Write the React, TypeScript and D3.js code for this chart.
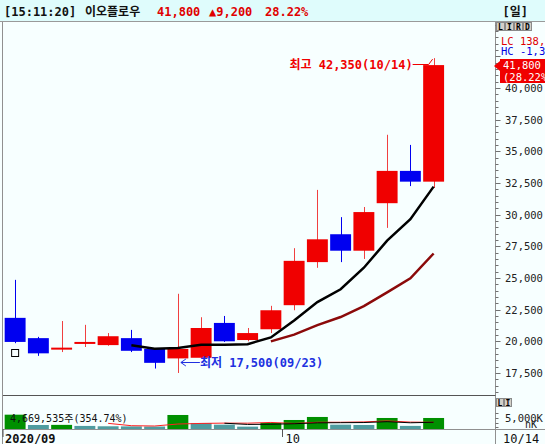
import React from 'react';
import * as d3 from 'd3';

const dates = ['09/14','09/15','09/16','09/17','09/18','09/21','09/22','09/23','09/24','09/25','09/28','09/29','10/05','10/06','10/07','10/08','10/12','10/13','10/14'];
const opens = [21850,20250,19450,19900,19700,20250,19400,18650,18700,21450,20100,20950,22850,26250,28450,27150,30900,33450,32600];
const highs = [24850,20350,21600,21300,20650,20900,19450,23750,21900,22000,21050,22800,27350,31950,29800,30600,36300,35500,42350];
const lows = [19850,18850,19150,19550,19650,19150,17850,17500,18650,19950,20000,20650,22450,25800,26250,26500,28950,32250,32100];
const closes = [19950,19050,19500,19950,20400,19250,18300,19400,21050,20000,20650,22450,26350,28050,27150,30200,33450,32600,41800];
const volumes = [6070000,1700000,1750000,1300000,1150000,1100000,1050000,5940000,2550000,1830000,1000000,2550000,3820000,5100000,1830000,1700000,4670000,1316330,4669535];
const priceTicks = [17500,20000,22500,25000,27500,30000,32500,35000,37500,40000];
const maShort = 6;
const maLong = 12;
const volMaShort = 5;
const volMaLong = 10;

const MONO = "'DejaVu Sans Mono', 'Noto Sans CJK KR', monospace";

function movingAvg(arr: number[], n: number): (number | null)[] {
  return arr.map((_, i) => (i < n - 1 ? null : d3.mean(arr.slice(i - n + 1, i + 1)) as number));
}

export default function App() {
  const W = 545, H = 444;
  const axisX = 495.5;
  const x = d3.scaleBand<string>().domain(dates).range([3.5, 445.25]).paddingInner(0.1).paddingOuter(0.05);
  const bw = x.bandwidth();
  const cx = (i: number) => (x(dates[i]) as number) + bw / 2;
  const y = d3.scaleLinear().domain([20000, 40000]).range([341.3, 87.9]);
  const yv = d3.scaleLinear().domain([0, 5000000]).range([429, 417.2]);

  const ma6 = movingAvg(closes, maShort);
  const ma12 = movingAvg(closes, maLong);
  const vma5 = movingAvg(volumes, volMaShort);
  const vma10 = movingAvg(volumes, volMaLong);

  const priceLine = d3.line<number | null>()
    .defined((d) => d != null)
    .x((_, i) => cx(i))
    .y((d) => y(d as number));
  const volLine = d3.line<number | null>()
    .defined((d) => d != null)
    .x((_, i) => cx(i))
    .y((d) => yv(d as number));

  const minorTicks = d3.range(15500, 45001, 500).filter((v) => y(v) > 23 && y(v) < 395);
  const fmt = d3.format(',');

  const hiIdx = highs.indexOf(d3.max(highs) as number);
  const loIdx = lows.indexOf(d3.min(lows) as number);
  const octIdx = dates.findIndex((d) => d.startsWith('10'));
  const octX = (x(dates[octIdx]) as number) - (x.step() * 0.1) / 2;

  const last = closes[closes.length - 1];
  const prev = closes[closes.length - 2];
  const chg = last - prev;
  const pct = (chg / prev) * 100;

  return (
    <svg width={W} height={H} style={{ position: 'absolute', left: 0, top: 0 }} fontFamily={MONO}>
      <defs>
        <clipPath id="pc"><rect x={3} y={22} width={axisX - 3} height={373} /></clipPath>
      </defs>
      <rect x={0} y={0} width={W} height={H} fill="#f7ffff" />
      {/* header */}
      <rect x={0} y={0} width={W} height={21} fill="#dffcfc" />
      <line x1={0} x2={W} y1={21.5} y2={21.5} stroke="#9a9a9a" />
      <text y={16} fontSize={12} fill="#111" fontWeight="bold">
        <tspan x={4}>[15:11:20]</tspan>
        <tspan x={85}>이오플로우</tspan>
      </text>
      <text y={16} fontSize={12} fill="#e00000" fontWeight="bold">
        <tspan x={157}>{fmt(last)}</tspan>
        <tspan x={209}>{'▲' + fmt(chg)}</tspan>
        <tspan x={265}>{pct.toFixed(2) + '%'}</tspan>
      </text>
      <text x={528} y={16} fontSize={12} fill="#111" textAnchor="end" fontWeight="bold">[일]</text>

      {/* frame lines */}
      <line x1={2.5} x2={2.5} y1={22} y2={H} stroke="#909090" />
      <line x1={axisX} x2={axisX} y1={22} y2={H} stroke="#909090" />
      <line x1={3} x2={axisX} y1={395.5} y2={395.5} stroke="#555" />
      <line x1={3} x2={W} y1={429.5} y2={429.5} stroke="#909090" />

      {/* price axis ticks */}
      {minorTicks.map((v) => (
        <line key={v} x1={axisX} x2={axisX + (v % 2500 === 0 ? 5 : 3)} y1={Math.round(y(v)) + 0.5} y2={Math.round(y(v)) + 0.5} stroke="#707070" />
      ))}
      {priceTicks.map((v) => (
        <text key={v} x={505} y={y(v) + 4} fontSize={10.5} fill="#222">{fmt(v)}</text>
      ))}

      {/* buttons */}
      {['L', 'I', 'R', 'D'].map((c, i) => (
        <g key={c}>
          <rect x={496.5 + i * 9} y={22.5} width={8} height={8} fill="#d4d0c8" stroke="#8a8a8a" />
          <text x={500.5 + i * 9} y={29.5} fontSize={8} fontWeight="bold" textAnchor="middle" fill="#000">{c}</text>
        </g>
      ))}
      <text x={501} y={45} fontSize={10.5} fill="#e00000">LC 138,800</text>
      <text x={501} y={55} fontSize={10.5} fill="#0000e0">HC  -1,300</text>
      <polygon points={`494,66 500,61 500,71`} fill="#f00000" />
      <rect x={500} y={59} width={45} height={24} fill="#f00000" />
      <text x={503} y={69} fontSize={10.5} fill="#fff">{fmt(last)}</text>
      <text x={503} y={81} fontSize={10.5} fill="#fff">{'(' + pct.toFixed(2) + '%)'}</text>

      {/* candles */}
      <g clipPath="url(#pc)">
        {dates.map((d, i) => {
          const up = closes[i] >= opens[i];
          const col = up ? '#f00000' : '#0000f0';
          const top = y(Math.max(opens[i], closes[i]));
          const bot = y(Math.min(opens[i], closes[i]));
          const c = Math.round(cx(i)) + 0.5;
          return (
            <g key={d}>
              <line x1={c} x2={c} y1={y(highs[i])} y2={y(lows[i])} stroke={up ? '#f04040' : col} strokeWidth={1} />
              <rect x={x(d) as number} y={top} width={bw} height={Math.max(bot - top, 2)} fill={col} />
            </g>
          );
        })}
        <path d={priceLine(ma12) || ''} fill="none" stroke="#8b0a0a" strokeWidth={2.5} />
        <path d={priceLine(ma6) || ''} fill="none" stroke="#000" strokeWidth={2.5} />
        <rect x={cx(0) - 3.5} y={349.5} width={7} height={7} fill="none" stroke="#000" />
      </g>

      {/* annotations */}
      <text x={(cx(hiIdx) - 21)} y={69} fontSize={12} fontWeight="bold" fill="#f00000" textAnchor="end">
        {'최고 ' + fmt(highs[hiIdx]) + '(' + dates[hiIdx] + ')'}
      </text>
      <polyline points={`${cx(hiIdx) - 21},64.5 ${cx(hiIdx) - 5},64.5 ${cx(hiIdx) - 1},${y(highs[hiIdx]) + 1}`} fill="none" stroke="#f00000" />
      <line x1={cx(loIdx) + 3} x2={cx(loIdx) + 22} y1={362.5} y2={362.5} stroke="#2030e0" />
      <polyline points={`${cx(loIdx) + 8},359 ${cx(loIdx) + 3},362.5 ${cx(loIdx) + 8},366`} fill="none" stroke="#2030e0" />
      <text x={cx(loIdx) + 22} y={367} fontSize={12} fontWeight="bold" fill="#2030e0">
        {'최저 ' + fmt(lows[loIdx]) + '(' + dates[loIdx] + ')'}
      </text>

      {/* volume */}
      {dates.map((d, i) => {
        const upv = i === 0 || volumes[i] > volumes[i - 1];
        return (
          <rect key={d} x={x(d) as number} y={yv(volumes[i])} width={bw} height={429 - yv(volumes[i])} fill={upv ? '#009000' : '#4f9ca0'} />
        );
      })}
      <path d={volLine(vma5) || ''} fill="none" stroke="#ff2020" strokeWidth={1} />
      <path d={volLine(vma10) || ''} fill="none" stroke="#000" strokeWidth={1} />
      <text x={10} y={422} fontSize={10} fill="#111">
        {fmt(volumes[volumes.length - 1]) + '주(' + (volumes[volumes.length - 1] / volumes[volumes.length - 2] * 100).toFixed(2) + '%)'}
      </text>
      {['L', 'I'].map((c, i) => (
        <g key={c}>
          <rect x={496.5 + i * 8} y={398.5} width={7} height={8} fill="#d4d0c8" stroke="#8a8a8a" />
          <text x={500 + i * 8} y={405.5} fontSize={8} fontWeight="bold" textAnchor="middle" fill="#000">{c}</text>
        </g>
      ))}
      {[413, 418, 423, 427].map((t) => (
        <line key={t} x1={axisX} x2={axisX + 3} y1={t + 0.5} y2={t + 0.5} stroke="#707070" />
      ))}
      <text x={505} y={422} fontSize={10.5} fill="#222">5,000K</text>
      <text x={525} y={428} fontSize={10} fill="#222">nK</text>

      {/* date axis */}
      <line x1={3} x2={3} y1={429} y2={437} stroke="#555" />
      <line x1={octX} x2={octX} y1={429} y2={437} stroke="#555" />
      <text x={5} y={443} fontSize={12} fontWeight="bold" fill="#111">2020/09</text>
      <text x={octX + 3} y={443} fontSize={12} fill="#111">10</text>
      <text x={503} y={443} fontSize={12} fill="#111">{dates[dates.length - 1]}</text>
    </svg>
  );
}
